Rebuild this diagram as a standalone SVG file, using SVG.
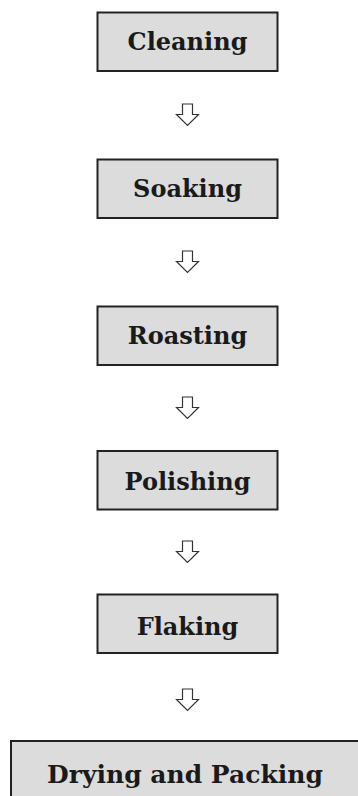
<svg xmlns="http://www.w3.org/2000/svg" width="358" height="796" viewBox="0 0 358 796">
<style>
.box{fill:#dcdcdc;stroke:#222;stroke-width:2}
.lbl{font-family:"DejaVu Serif","Liberation Serif",serif;font-weight:bold;font-size:24px;fill:#1a1a1a;text-anchor:middle}
.arr{fill:#fff;stroke:#333;stroke-width:1.2;stroke-linejoin:miter}
</style>
<rect width="358" height="796" fill="#fff"/>
<g id="connectors">
<path class="arr" d="M182.5 104V114.5H176.5L187.5 125.5L198.5 114.5H192.5V104Z"/>
<path class="arr" d="M182.5 251V261.5H176.5L187.5 272.5L198.5 261.5H192.5V251Z"/>
<path class="arr" d="M182.5 397V407.5H176.5L187.5 418.5L198.5 407.5H192.5V397Z"/>
<path class="arr" d="M182.5 541V551.5H176.5L187.5 562.5L198.5 551.5H192.5V541Z"/>
<path class="arr" d="M182.5 689V699.5H176.5L187.5 710.5L198.5 699.5H192.5V689Z"/>
</g>
<g id="cleaning"><rect class="box" x="97.5" y="12.5" width="180" height="58.5"/><text class="lbl" x="187.5" y="50">Cleaning</text></g>
<g id="soaking"><rect class="box" x="97.5" y="159.5" width="180" height="58.5"/><text class="lbl" x="187.5" y="197">Soaking</text></g>
<g id="roasting"><rect class="box" x="97.5" y="306.5" width="180" height="58.5"/><text class="lbl" x="187.5" y="344">Roasting</text></g>
<g id="polishing"><rect class="box" x="97.5" y="451" width="180" height="58.5"/><text class="lbl" x="187.5" y="490">Polishing</text></g>
<g id="flaking"><rect class="box" x="97.5" y="594.5" width="180" height="58.5"/><text class="lbl" x="187.5" y="635">Flaking</text></g>
<g id="drying"><rect class="box" x="11" y="741" width="360" height="70"/><text class="lbl" x="185" y="783" style="font-size:25px">Drying and Packing</text></g>
</svg>
